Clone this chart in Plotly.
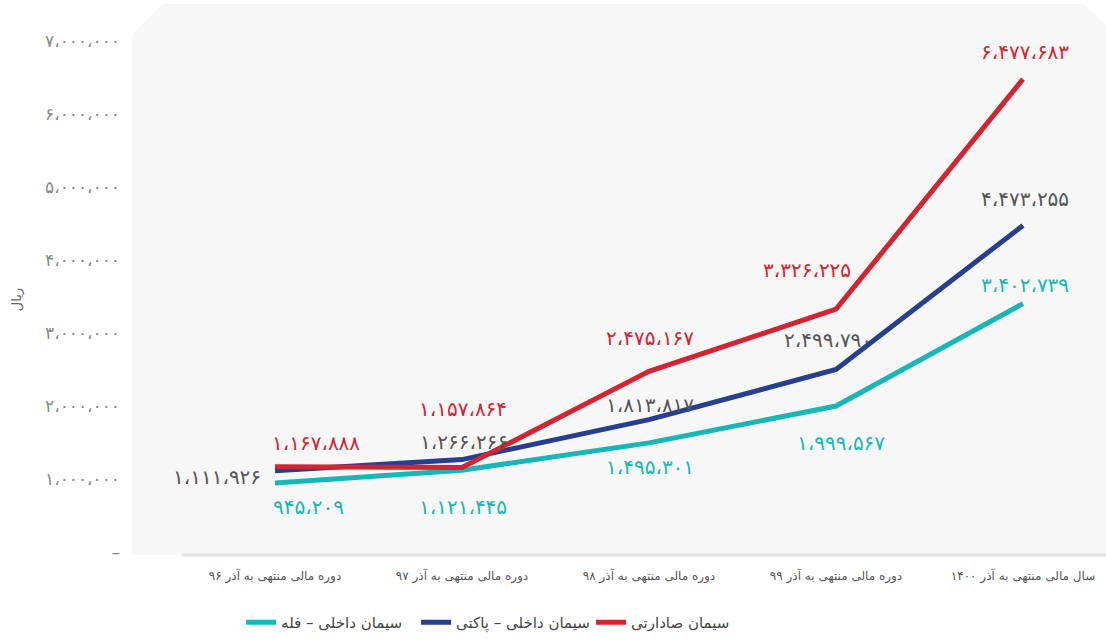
import plotly.graph_objects as go

categories = ["دوره مالی منتهی به آذر ۹۶", "دوره مالی منتهی به آذر ۹۷", "دوره مالی منتهی به آذر ۹۸",
              "دوره مالی منتهی به آذر ۹۹", "سال مالی منتهی به آذر ۱۴۰۰"]
series_names = ["سیمان داخلی – فله", "سیمان داخلی – پاکتی", "سیمان صادارتی"]
bulk = [945209, 1121445, 1495301, 1999567, 3402739]
packed = [1111926, 1266266, 1813817, 2499790, 4473255]
export = [1167888, 1157864, 2475167, 3326225, 6477683]
y_tickvals = [0, 1000000, 2000000, 3000000, 4000000, 5000000, 6000000, 7000000]
y_title = "ریال"

line_colors = ["#16b7b6", "#263f8f", "#d42431"]
label_colors = ["#16b7b6", "#555555", "#d42431"]
# label offsets in pixels (xshift, yshift) per series, per point
label_offsets = [
    [(33, -24), (1, -37), (1, -24), (5, -37), (2, 19)],
    [(-58, -6), (2, 18), (1, 15), (-8, 30), (2, 26)],
    [(41, 24), (1, 58), (1, 33), (-29, 39), (2, 27)],
]

FA = str.maketrans("0123456789,", "۰۱۲۳۴۵۶۷۸۹،")


def fa(n):
    return f"{n:,}".translate(FA)


xs = list(range(len(categories)))
data = [bulk, packed, export]

fig = go.Figure()
for name, vals, col in zip(series_names, data, line_colors):
    fig.add_trace(go.Scatter(x=xs, y=vals, mode="lines", name=name,
                             line=dict(color=col, width=5), hoverinfo="skip"))

annotations = []
for vals, col, offs in zip(data, label_colors, label_offsets):
    for x, v, (dx, dy) in zip(xs, vals, offs):
        annotations.append(dict(x=x, y=v, xref="x", yref="y", text=fa(v), showarrow=False,
                                xshift=dx, yshift=dy,
                                font=dict(size=20, color=col, family="DejaVu Sans")))

annotations.append(dict(x=-0.128, y=0.463, xref="paper", yref="paper", text=y_title, showarrow=False,
                        textangle=-90, font=dict(size=13, color="#666", family="DejaVu Sans")))

ticktext = ["–" if t == 0 else fa(t) for t in y_tickvals]

# chamfered plot background
bg_path = "M 0,0 L 0,0.944 L 0.0318,1 L 0.977,1 L 1,0.962 L 1,0 Z"

fig.update_layout(
    width=1106, height=639,
    margin=dict(l=132, r=0, t=4, b=84),
    paper_bgcolor="white", plot_bgcolor="white",
    font=dict(family="DejaVu Sans", color="#555"),
    showlegend=True,
    legend=dict(orientation="h", x=0.112, xanchor="left", xref="paper",
                y=-0.008, yanchor="bottom", yref="container",
                font=dict(size=15, color="#444", family="DejaVu Sans"),
                traceorder="normal", entrywidth=130, entrywidthmode="pixels"),
    xaxis=dict(range=[-0.765, 4.444], tickvals=xs, ticktext=categories, showgrid=False,
               zeroline=False, showline=False, ticks="", automargin=False, ticklabelstandoff=12,
               tickfont=dict(size=12, color="#555", family="DejaVu Sans")),
    yaxis=dict(range=[-41000, 7507000], tickvals=y_tickvals, ticktext=ticktext, showgrid=False,
               zeroline=False, showline=False, ticks="", ticklabelstandoff=11, automargin=False,
               tickfont=dict(size=17, color="#888", family="DejaVu Sans")),
    shapes=[
        dict(type="path", xref="paper", yref="paper", path=bg_path, fillcolor="#f7f7f7",
             line=dict(width=0), layer="below"),
        dict(type="line", xref="paper", yref="paper", x0=0.051, x1=1, y0=0, y1=0,
             line=dict(color="#e2e2e2", width=3), layer="below"),
    ],
    annotations=annotations,
)

fig.write_html("out.html", config={"displayModeBar": False},
               post_script="document.body.style.margin='0';")
